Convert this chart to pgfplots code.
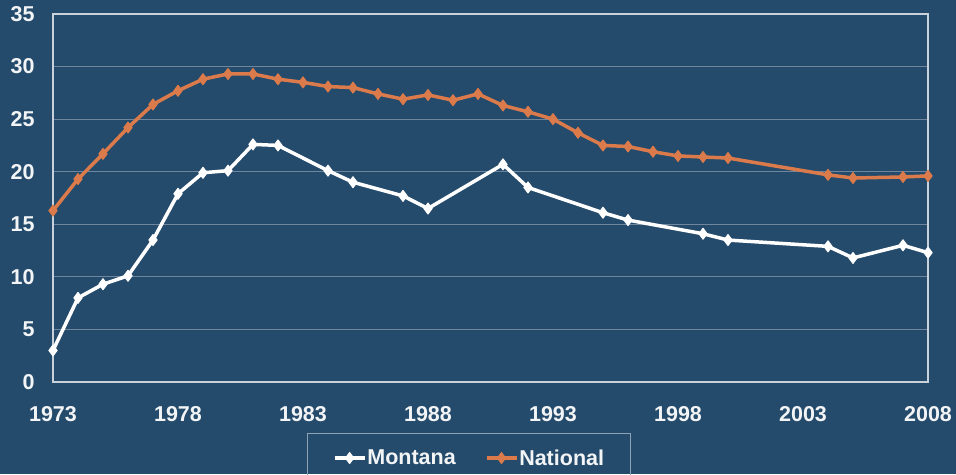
\documentclass[border=0pt]{standalone}
\usepackage{pgfplots}
\pgfplotsset{compat=1.18}
\usepackage{fontspec}
\setmainfont{Liberation Sans}
\definecolor{bg}{HTML}{244B6B}
\definecolor{natl}{HTML}{DB7A4A}
\definecolor{gridc}{HTML}{6F869C}
\definecolor{framec}{HTML}{C9D2DB}
\definecolor{txt}{HTML}{F2F4F6}
\definecolor{legc}{HTML}{8FA3B5}
\begin{document}
\begin{tikzpicture}[x=1pt,y=1pt]
\fill[bg] (0,0) rectangle (956,474);
\useasboundingbox (0,0) rectangle (956,474);
\begin{axis}[
  at={(53pt,92pt)}, anchor=south west,
  width=875pt, height=368pt, scale only axis,
  xmin=1973, xmax=2008, ymin=0, ymax=35,
  xtick={1973,1978,...,2008}, ytick={0,5,...,35},
  major tick length=0pt,
  axis line style={framec, line width=1.5pt},
  ymajorgrids, major grid style={gridc, line width=0.9pt},
  /pgf/number format/assume math mode=true,
  xticklabel style={/pgf/number format/1000 sep={}, yshift=-21pt},
  yticklabel style={xshift=-15pt},
  tick label style={font=\fontsize{21.5}{25}\selectfont\bfseries, text=txt},
  legend columns=2,
  legend image code/.code={\draw[mark repeat=2,mark phase=2,#1] plot coordinates {(0pt,0pt) (15pt,0pt) (30pt,0pt)};},
  legend style={at={(rel axis cs:0.4754,-0.1386)}, anchor=north, draw=legc, line width=1pt, fill=none, text=txt,
    font=\fontsize{21.5}{25}\selectfont\bfseries, inner xsep=25pt, inner ysep=15pt,
    nodes={inner sep=1pt},
    /tikz/every even column/.append style={column sep=28pt}},
]
\addplot[white, line width=3.5pt, line join=round, mark=diamond*, mark size=5.5pt, mark options={fill=white, line width=1pt}] coordinates {
(1973,3.0) (1974,8.0) (1975,9.3) (1976,10.1) (1977,13.5) (1978,17.9) (1979,19.9) (1980,20.1)
(1981,22.6) (1982,22.5) (1984,20.1) (1985,19.0) (1987,17.7) (1988,16.5) (1991,20.7) (1992,18.5)
(1995,16.1) (1996,15.4) (1999,14.1) (2000,13.5) (2004,12.9) (2005,11.8) (2007,13.0) (2008,12.3)
};
\addlegendentry{Montana}
\addplot[natl, line width=3.5pt, line join=round, mark=diamond*, mark size=5.5pt, mark options={fill=natl, line width=1pt}] coordinates {
(1973,16.3) (1974,19.3) (1975,21.7) (1976,24.2) (1977,26.4) (1978,27.7) (1979,28.8) (1980,29.3)
(1981,29.3) (1982,28.8) (1983,28.5) (1984,28.1) (1985,28.0) (1986,27.4) (1987,26.9) (1988,27.3)
(1989,26.8) (1990,27.4) (1991,26.3) (1992,25.7) (1993,25.0) (1994,23.7) (1995,22.5) (1996,22.4)
(1997,21.9) (1998,21.5) (1999,21.4) (2000,21.3) (2004,19.7) (2005,19.4) (2007,19.5) (2008,19.6)
};
\addlegendentry{National}
\end{axis}
\end{tikzpicture}
\end{document}
